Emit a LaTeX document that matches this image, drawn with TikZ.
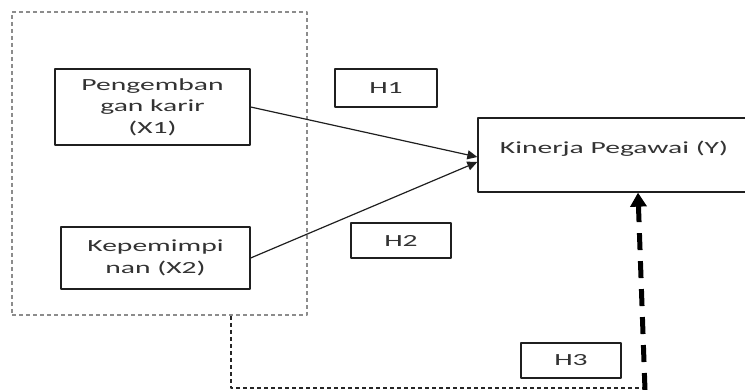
\documentclass[tikz,border=0pt]{standalone}
\usepackage{fontspec}
\setmainfont{Carlito}[FakeStretch=1.74]
\usetikzlibrary{arrows.meta}

\begin{document}
\begin{tikzpicture}[x=1pt,y=-1pt,line join=round]
	\definecolor{abutipis}{rgb}{0.55,0.55,0.55}
	\definecolor{hitamlembut}{rgb}{0.12,0.12,0.12}
	\tikzset{
		kotak/.style={draw=hitamlembut,line width=1.3pt,inner sep=0pt,align=center,
			font=\fontsize{17}{21.5}\selectfont,text=black!80},
		grup/.style={draw=abutipis,line width=2pt,dash pattern=on 4pt off 3pt,
			minimum width=295pt,minimum height=303pt},
		panah/.style={hitamlembut,line width=1.2pt,-{Triangle[length=10pt,width=9pt]}},
		garistitik/.style={black!85,line width=1.5pt,dash pattern=on 4pt off 3pt},
		panahtebal/.style={black,line width=5pt,dash pattern=on 17pt off 11pt,
			-{Triangle[length=14pt,width=16pt]}}
	}
	\useasboundingbox (0,0) rectangle (745,390);
	
	%kelompok variabel bebas
	\node[grup] (kelompok) at (159.5,163.5) {};
	\node[kotak,minimum width=195pt,minimum height=76pt] (X1) at (152.5,107)
		{Pengemban\\gan karir\\(X1)};
	\node[kotak,minimum width=189pt,minimum height=62pt] (X2) at (155.5,258)
		{Kepemimpi\\nan (X2)};
	
	\node[kotak,anchor=base,minimum width=272pt,text height=36pt,text depth=38pt] (Y)
		at (614,154) {Kinerja Pegawai (Y)};
	
	\node[kotak,minimum width=102pt,minimum height=38pt] (H1) at (386,88) {H1};
	\node[kotak,minimum width=100pt,minimum height=35pt] (H2) at (401,240.5) {H2};
	\node[kotak,minimum width=100pt,minimum height=35pt] (H3) at (571,360.5) {H3};
	
	\draw[panah] (X1.east) -- ([yshift=-2pt]Y.west);
	\draw[panah] (X2.east) -- ([yshift=-7pt]Y.west);
	
	\coordinate (belok) at (645,388);
	\draw[garistitik] ([xshift=71.5pt]kelompok.south) |- (belok);
	\draw[panahtebal] ([yshift=-2pt]belok) -- ([xshift=24pt]Y.south);
\end{tikzpicture}
\end{document}
